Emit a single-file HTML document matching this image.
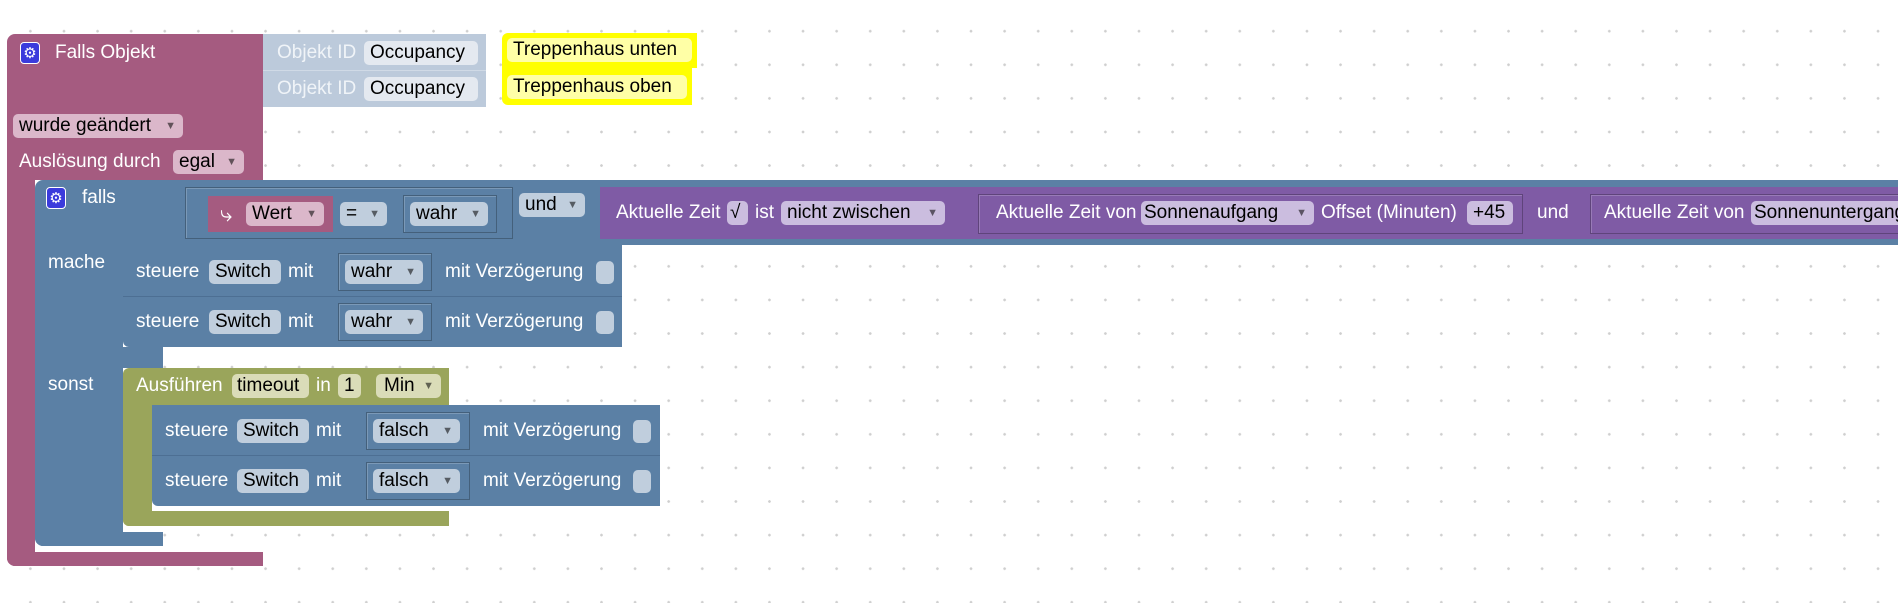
<!DOCTYPE html>
<html><head><meta charset="utf-8"><style>
html,body{margin:0;padding:0;}
body{width:1898px;height:603px;position:relative;overflow:hidden;background:#fff;
background-image:radial-gradient(circle,#cfcfcf 1.2px,transparent 1.5px);background-size:33.6px 33.6px;background-position:13.6px 14.4px;
font-family:"Liberation Sans",Arial,sans-serif;font-size:19px;}
.b{position:absolute;}
.t{position:absolute;color:#fff;white-space:nowrap;line-height:20px;transform:translateY(-10px);}
.f{position:absolute;height:24px;line-height:24px;border-radius:5px;color:#000;white-space:nowrap;padding-left:6px;box-sizing:border-box;}
.f .a{position:absolute;right:7px;top:0;font-size:11px;opacity:.55;}
.s{position:absolute;border:1px solid rgba(0,0,0,.25);box-shadow:inset 1px 1px 0 rgba(255,255,255,.2);box-sizing:border-box;}
.g{position:absolute;width:20px;height:22px;background:#3b3bdc;border-radius:4px;color:#fff;font-size:15px;line-height:22px;text-align:center;border:1px solid #fff;box-sizing:border-box;}
.pk{background:#a55b80}.bl{background:#5b80a5}.pu{background:#7f5ba5}.ol{background:#9aa55b}
.fpk{background:#dbb7ca}.fbl{background:#c0cedd}.fpu{background:#cbbddf}.fol{background:#dadcb8}
.cb{position:absolute;width:18px;height:23px;border-radius:5px;background:#c0cedd;}
</style></head><body>

<!-- pink outer -->
<div class="b pk" style="left:7px;top:34px;width:256px;height:146px;border-radius:8px 0 0 0"></div>
<div class="b pk" style="left:7px;top:180px;width:28px;height:386px;border-radius:0 0 0 8px"></div>
<div class="b pk" style="left:7px;top:552px;width:256px;height:14px;border-radius:0 0 0 8px"></div>
<div class="g" style="left:20px;top:42px">⚙</div>
<div class="t" style="left:55px;top:53px">Falls Objekt</div>
<div class="f fpk" style="left:13px;top:114px;width:170px">wurde geändert<span class="a">▼</span></div>
<div class="t" style="left:19px;top:162px">Auslösung durch</div>
<div class="f fpk" style="left:173px;top:150px;width:71px">egal<span class="a">▼</span></div>

<!-- Objekt ID -->
<div class="b" style="left:263px;top:34px;width:223px;height:73px;background:#bccadb"></div>
<div class="b" style="left:263px;top:70px;width:223px;height:1px;background:#d0dae6"></div>
<div class="t" style="left:277px;top:53px;color:#f0f4f8">Objekt ID</div>
<div class="f" style="left:364px;top:41px;width:114px;background:#e4e9f0">Occupancy</div>
<div class="t" style="left:277px;top:89px;color:#f0f4f8">Objekt ID</div>
<div class="f" style="left:364px;top:77px;width:114px;background:#e4e9f0">Occupancy</div>

<!-- yellow -->
<div class="b" style="left:502px;top:33px;width:195px;height:35px;background:#ffff00;border-radius:6px 0 0 0"></div>
<div class="b" style="left:502px;top:68px;width:190px;height:37px;background:#ffff00;border-radius:0 0 0 6px"></div>
<div class="f" style="left:507px;top:38px;width:185px;background:#ffffa6">Treppenhaus unten</div>
<div class="f" style="left:507px;top:75px;width:180px;background:#ffffa6">Treppenhaus oben</div>

<!-- blue falls -->
<div class="b bl" style="left:35px;top:180px;width:1863px;height:65px;border-radius:8px 0 0 0"></div>
<div class="b bl" style="left:35px;top:245px;width:88px;height:301px;border-radius:0 0 0 8px"></div>
<div class="b bl" style="left:35px;top:532px;width:128px;height:14px;border-radius:0 0 0 8px"></div>
<div class="b bl" style="left:123px;top:347px;width:40px;height:21px"></div>
<div class="g" style="left:46px;top:187px">⚙</div>
<div class="t" style="left:82px;top:198px">falls</div>
<div class="t" style="left:48px;top:263px">mache</div>
<div class="t" style="left:48px;top:385px">sonst</div>

<div class="s" style="left:185px;top:187px;width:328px;height:52px"></div>
<div class="b pk" style="left:208px;top:196px;width:125px;height:36px"></div>
<div class="t" style="left:220px;top:214px;font-size:22px">⤷</div>
<div class="f fpk" style="left:246px;top:202px;width:78px">Wert<span class="a">▼</span></div>
<div class="f fbl" style="left:340px;top:202px;width:47px">=<span class="a">▼</span></div>
<div class="s" style="left:403px;top:195px;width:94px;height:38px"></div>
<div class="f fbl" style="left:410px;top:202px;width:78px">wahr<span class="a">▼</span></div>
<div class="f fbl" style="left:519px;top:193px;width:66px">und<span class="a">▼</span></div>

<!-- purple -->
<div class="b pu" style="left:600px;top:187px;width:1298px;height:52px"></div>
<div class="t" style="left:616px;top:213px">Aktuelle Zeit</div>
<div class="f fpu" style="left:727px;top:201px;width:21px;padding-left:3px">√</div>
<div class="t" style="left:755px;top:213px">ist</div>
<div class="f fpu" style="left:781px;top:201px;width:164px">nicht zwischen<span class="a">▼</span></div>
<div class="s" style="left:978px;top:194px;width:545px;height:40px"></div>
<div class="t" style="left:996px;top:213px">Aktuelle Zeit von</div>
<div class="f fpu" style="left:1141px;top:201px;width:173px;padding-left:3px">Sonnenaufgang<span class="a">▼</span></div>
<div class="t" style="left:1321px;top:213px">Offset (Minuten)</div>
<div class="f fpu" style="left:1467px;top:201px;width:46px">+45</div>
<div class="t" style="left:1537px;top:213px">und</div>
<div class="s" style="left:1590px;top:194px;width:320px;height:40px"></div>
<div class="t" style="left:1604px;top:213px">Aktuelle Zeit von</div>
<div class="f fpu" style="left:1751px;top:201px;width:160px;padding-left:3px">Sonnenuntergang</div>

<!-- mache statements -->
<div class="b bl" style="left:123px;top:245px;width:499px;height:52px;border-bottom:1px solid #4d6f93;box-sizing:border-box"></div>
<div class="b bl" style="left:123px;top:297px;width:499px;height:50px;border-radius:0 0 0 6px"></div>
<div class="t" style="left:136px;top:272px">steuere</div>
<div class="f fbl" style="left:209px;top:260px;width:72px">Switch</div>
<div class="t" style="left:288px;top:272px">mit</div>
<div class="s" style="left:338px;top:253px;width:94px;height:38px"></div>
<div class="f fbl" style="left:345px;top:260px;width:78px">wahr<span class="a">▼</span></div>
<div class="t" style="left:445px;top:272px">mit Verzögerung</div>
<div class="cb" style="left:596px;top:261px"></div>
<div class="t" style="left:136px;top:322px">steuere</div>
<div class="f fbl" style="left:209px;top:310px;width:72px">Switch</div>
<div class="t" style="left:288px;top:322px">mit</div>
<div class="s" style="left:338px;top:303px;width:94px;height:38px"></div>
<div class="f fbl" style="left:345px;top:310px;width:78px">wahr<span class="a">▼</span></div>
<div class="t" style="left:445px;top:322px">mit Verzögerung</div>
<div class="cb" style="left:596px;top:311px"></div>

<!-- Ausführen -->
<div class="b ol" style="left:123px;top:368px;width:326px;height:37px;border-radius:6px 0 0 0"></div>
<div class="b ol" style="left:123px;top:405px;width:29px;height:121px;border-radius:0 0 0 6px"></div>
<div class="b ol" style="left:123px;top:511px;width:326px;height:15px;border-radius:0 0 0 6px"></div>
<div class="t" style="left:136px;top:386px">Ausführen</div>
<div class="f fol" style="left:232px;top:374px;width:77px;padding-left:5px">timeout</div>
<div class="t" style="left:316px;top:386px">in</div>
<div class="f fol" style="left:338px;top:374px;width:23px;padding-left:6px">1</div>
<div class="f fol" style="left:376px;top:374px;width:65px;padding-left:8px">Min<span class="a">▼</span></div>

<div class="b bl" style="left:152px;top:405px;width:508px;height:51px;border-bottom:1px solid #4d6f93;box-sizing:border-box"></div>
<div class="b bl" style="left:152px;top:456px;width:508px;height:50px;border-radius:0 0 0 6px"></div>
<div class="t" style="left:165px;top:431px">steuere</div>
<div class="f fbl" style="left:237px;top:419px;width:72px">Switch</div>
<div class="t" style="left:316px;top:431px">mit</div>
<div class="s" style="left:366px;top:412px;width:104px;height:38px"></div>
<div class="f fbl" style="left:373px;top:419px;width:87px">falsch<span class="a">▼</span></div>
<div class="t" style="left:483px;top:431px">mit Verzögerung</div>
<div class="cb" style="left:633px;top:420px"></div>
<div class="t" style="left:165px;top:481px">steuere</div>
<div class="f fbl" style="left:237px;top:469px;width:72px">Switch</div>
<div class="t" style="left:316px;top:481px">mit</div>
<div class="s" style="left:366px;top:462px;width:104px;height:38px"></div>
<div class="f fbl" style="left:373px;top:469px;width:87px">falsch<span class="a">▼</span></div>
<div class="t" style="left:483px;top:481px">mit Verzögerung</div>
<div class="cb" style="left:633px;top:470px"></div>
</body></html>
